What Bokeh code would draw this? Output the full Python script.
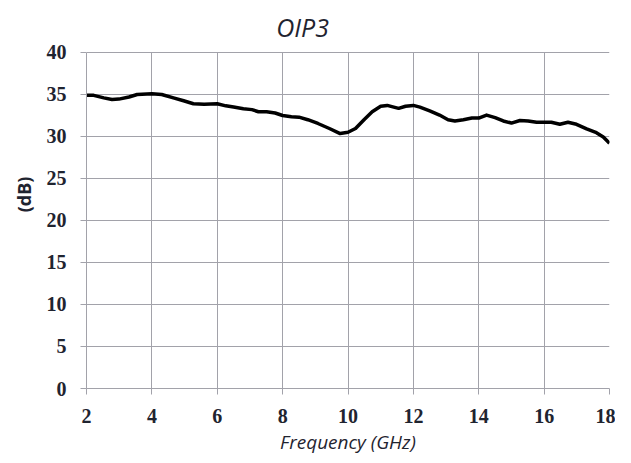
from bokeh.plotting import figure
from bokeh.models import Range1d, FixedTicker, Label
from bokeh.embed import file_html
from bokeh.resources import INLINE

freq_ghz = [2.0, 2.22, 2.53, 2.78, 2.99, 3.3, 3.55, 4.0, 4.3, 4.66, 4.97, 5.27, 5.6, 6.0,
            6.26, 6.5, 6.8, 7.06, 7.26, 7.51, 7.77, 8.0, 8.27, 8.5, 8.77, 9.08, 9.43,
            9.76, 10.0, 10.23, 10.49, 10.74, 11.0, 11.2, 11.4, 11.55, 11.76, 12.0, 12.2,
            12.5, 12.8, 13.06, 13.27, 13.53, 13.79, 14.0, 14.24, 14.5, 14.75, 15.0,
            15.26, 15.51, 15.77, 15.97, 16.22, 16.48, 16.73, 16.99, 17.3, 17.6, 17.81, 18.0]
oip3_db = [34.9, 34.9, 34.6, 34.4, 34.45, 34.7, 35.0, 35.1, 35.0, 34.6, 34.25, 33.9, 33.85, 33.9,
           33.65, 33.5, 33.3, 33.2, 32.95, 32.95, 32.8, 32.5, 32.35, 32.3, 32.0, 31.55, 30.95,
           30.35, 30.5, 30.95, 32.0, 32.95, 33.6, 33.7, 33.5, 33.35, 33.6, 33.7, 33.5,
           33.05, 32.55, 32.0, 31.85, 32.0, 32.2, 32.2, 32.55, 32.25, 31.85, 31.6,
           31.9, 31.85, 31.7, 31.7, 31.7, 31.45, 31.7, 31.45, 30.9, 30.45, 29.95, 29.2]
x_ticks = [2, 4, 6, 8, 10, 12, 14, 16, 18]
y_ticks = [0, 5, 10, 15, 20, 25, 30, 35, 40]
title_text = "OIP3"

y_min, y_max = 0, 40
y_view_top = 46.19   # extra room above the 40 dB line for the title

grid_col = "#a2a2aa"
text_col = "#1f2430"

p = figure(width=615, height=458, output_backend="svg", toolbar_location=None,
           x_range=Range1d(2, 18), y_range=Range1d(y_min, y_view_top),
           min_border_left=86, min_border_right=6, min_border_top=0, min_border_bottom=70)

p.line(freq_ghz, oip3_db, line_color="black", line_width=3.5, line_join="round")

p.add_layout(Label(x=8.61, y=y_max, y_offset=25, text=title_text,
                   text_align="center", text_baseline="alphabetic",
                   text_font="Open Sans", text_font_style="italic",
                   text_font_size="25px", text_color=text_col))

p.outline_line_color = None
p.background_fill_color = "white"
p.border_fill_color = "white"

for ax in (p.xaxis[0], p.yaxis[0]):
    ax.axis_line_color = grid_col
    ax.major_tick_line_color = grid_col
    ax.major_tick_out = 6
    ax.major_tick_in = 0
    ax.minor_tick_line_color = None
    ax.major_label_text_font = "Liberation Serif"
    ax.major_label_text_font_style = "bold"
    ax.major_label_text_font_size = "20px"
    ax.major_label_text_color = text_col
    ax.axis_label_text_color = text_col

p.xaxis.ticker = FixedTicker(ticks=x_ticks)
p.yaxis.ticker = FixedTicker(ticks=y_ticks)
p.yaxis.bounds = (y_min, y_max)
p.xaxis.major_label_standoff = 14
p.yaxis.major_label_standoff = 14

p.xaxis.axis_label = "Frequency (GHz)"
p.xaxis.axis_label_text_font = "Open Sans"
p.xaxis.axis_label_text_font_style = "italic"
p.xaxis.axis_label_text_font_size = "19px"
p.xaxis.axis_label_standoff = 3

p.yaxis.axis_label = "(dB)"
p.yaxis.axis_label_text_font = "Open Sans"
p.yaxis.axis_label_text_font_style = "bold"
p.yaxis.axis_label_text_font_size = "18px"
p.yaxis.axis_label_standoff = 8

p.ygrid.grid_line_color = grid_col
p.ygrid.grid_line_alpha = 1

try:
    p.xgrid.cross_bounds = (y_min, y_max)
    p.xgrid.grid_line_color = grid_col
    p.xgrid.grid_line_alpha = 1
except Exception:
    p.xgrid.grid_line_color = None
    p.segment(x0=x_ticks, y0=[y_min] * len(x_ticks), x1=x_ticks, y1=[y_max] * len(x_ticks),
              line_color=grid_col, line_width=1)

open("out.html", "w").write(file_html(p, INLINE))
